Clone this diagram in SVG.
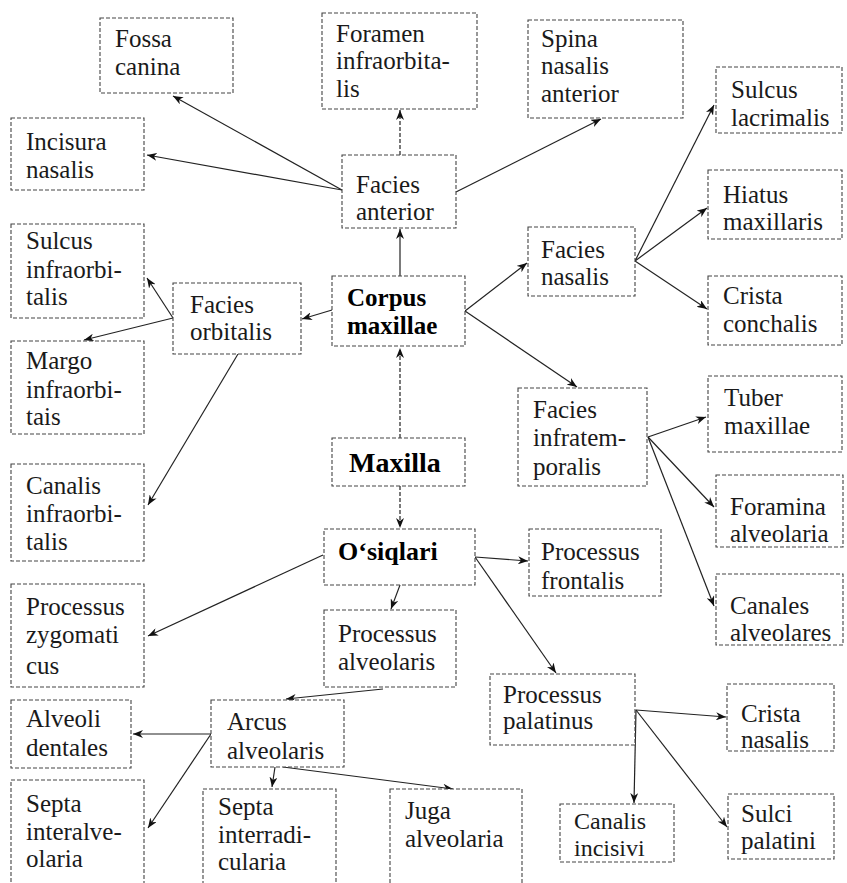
<svg xmlns="http://www.w3.org/2000/svg" width="847" height="883" viewBox="0 0 847 883">
<defs>
<marker id="ah" viewBox="0 0 10 8" refX="10" refY="4" markerWidth="10" markerHeight="8" markerUnits="userSpaceOnUse" orient="auto">
<path d="M0,0 L10,4 L0,8 L3,4 Z" fill="#111"/>
</marker>
</defs>
<style>
.b{fill:#fff;stroke:#444;stroke-width:1.1;stroke-dasharray:4 2}
.t{font-family:"Liberation Serif","Times New Roman",serif;font-size:25px;fill:#1a1a1a}
.bt{font-family:"Liberation Serif","Times New Roman",serif;font-size:25px;font-weight:bold;fill:#000}
.c line{stroke:#222;stroke-width:1.2;marker-end:url(#ah)}
</style>
<rect width="847" height="883" fill="#fff"/>
<g class="c" id="connectors">
<line x1="342" y1="190" x2="173" y2="96"/>
<line x1="342" y1="190" x2="147" y2="155"/>
<line x1="400" y1="155" x2="400" y2="110" stroke-dasharray="4 2"/>
<line x1="456" y1="192" x2="601" y2="119"/>
<line x1="400" y1="276" x2="400" y2="229"/>
<line x1="332" y1="310" x2="302" y2="319"/>
<line x1="465" y1="311" x2="527" y2="263"/>
<line x1="465" y1="311" x2="577" y2="387"/>
<line x1="635" y1="261" x2="714" y2="105"/>
<line x1="635" y1="261" x2="707" y2="208"/>
<line x1="635" y1="261" x2="707" y2="309"/>
<line x1="173" y1="318" x2="147" y2="278"/>
<line x1="173" y1="318" x2="84" y2="340"/>
<line x1="238" y1="354" x2="148" y2="505"/>
<line x1="400" y1="438" x2="400" y2="348" stroke-dasharray="4 2"/>
<line x1="400" y1="486" x2="400" y2="528" stroke-dasharray="4 2"/>
<line x1="648" y1="437" x2="706" y2="417"/>
<line x1="648" y1="437" x2="714" y2="507"/>
<line x1="648" y1="437" x2="714" y2="606"/>
<line x1="323" y1="555" x2="148" y2="636"/>
<line x1="475" y1="557" x2="528" y2="561"/>
<line x1="400" y1="585" x2="391" y2="609"/>
<line x1="475" y1="557" x2="556" y2="673"/>
<line x1="383" y1="689" x2="286" y2="699"/>
<line x1="211" y1="734" x2="133" y2="734"/>
<line x1="211" y1="734" x2="148" y2="828"/>
<line x1="275" y1="767" x2="272" y2="787"/>
<line x1="283" y1="767" x2="453" y2="789"/>
<line x1="636" y1="710" x2="726" y2="717"/>
<line x1="636" y1="710" x2="634" y2="803"/>
<line x1="636" y1="710" x2="727" y2="827"/>
</g>
<g id="n-fossa"><rect class="b" x="100" y="18" width="133" height="75"/><text class="t" x="115" y="47">Fossa</text><text class="t" x="115" y="75">canina</text></g>
<g id="n-foramen"><rect class="b" x="322" y="13" width="155" height="96"/><text class="t" x="336" y="42">Foramen</text><text class="t" x="336" y="69">infraorbita-</text><text class="t" x="336" y="97">lis</text></g>
<g id="n-spina"><rect class="b" x="528" y="20" width="155" height="98"/><text class="t" x="541" y="47">Spina</text><text class="t" x="541" y="74">nasalis</text><text class="t" x="541" y="102">anterior</text></g>
<g id="n-incisura"><rect class="b" x="11" y="118" width="133" height="72"/><text class="t" x="26" y="150">Incisura</text><text class="t" x="26" y="178">nasalis</text></g>
<g id="n-sulcuslac"><rect class="b" x="716" y="67" width="126" height="66"/><text class="t" x="731" y="98">Sulcus</text><text class="t" x="731" y="126">lacrimalis</text></g>
<g id="n-faciesant"><rect class="b" x="342" y="155" width="114" height="73"/><text class="t" x="356" y="193">Facies</text><text class="t" x="356" y="220">anterior</text></g>
<g id="n-hiatus"><rect class="b" x="708" y="170" width="134" height="69"/><text class="t" x="723" y="203">Hiatus</text><text class="t" x="723" y="230">maxillaris</text></g>
<g id="n-sulcusinf"><rect class="b" x="11" y="224" width="133" height="94"/><text class="t" x="26" y="249">Sulcus</text><text class="t" x="26" y="278">infraorbi-</text><text class="t" x="26" y="305">talis</text></g>
<g id="n-faciesnas"><rect class="b" x="528" y="227" width="107" height="69"/><text class="t" x="541" y="258">Facies</text><text class="t" x="541" y="285">nasalis</text></g>
<g id="n-faciesorb"><rect class="b" x="173" y="283" width="128" height="71"/><text class="t" x="190" y="313">Facies</text><text class="t" x="190" y="340">orbitalis</text></g>
<g id="n-corpus"><rect class="b" x="332" y="276" width="133" height="70"/><text class="bt" x="347" y="306">Corpus</text><text class="bt" x="347" y="334">maxillae</text></g>
<g id="n-cristacon"><rect class="b" x="708" y="276" width="134" height="69"/><text class="t" x="723" y="304">Crista</text><text class="t" x="723" y="332">conchalis</text></g>
<g id="n-margo"><rect class="b" x="11" y="341" width="133" height="93"/><text class="t" x="26" y="369">Margo</text><text class="t" x="26" y="398">infraorbi-</text><text class="t" x="26" y="425">tais</text></g>
<g id="n-tuber"><rect class="b" x="708" y="376" width="134" height="76"/><text class="t" x="724" y="406">Tuber</text><text class="t" x="724" y="434">maxillae</text></g>
<g id="n-faciesinfra"><rect class="b" x="518" y="388" width="129" height="98"/><text class="t" x="533" y="418">Facies</text><text class="t" x="533" y="446">infratem-</text><text class="t" x="533" y="475">poralis</text></g>
<g id="n-maxilla"><rect class="b" x="332" y="438" width="133" height="48"/><text class="bt" x="349" y="472" style="font-size:28px">Maxilla</text></g>
<g id="n-canalisinf"><rect class="b" x="11" y="464" width="133" height="97"/><text class="t" x="26" y="494">Canalis</text><text class="t" x="26" y="522">infraorbi-</text><text class="t" x="26" y="550">talis</text></g>
<g id="n-foramina"><rect class="b" x="716" y="475" width="127" height="72"/><text class="t" x="730" y="515">Foramina</text><text class="t" x="730" y="542">alveolaria</text></g>
<g id="n-osiqlari"><rect class="b" x="324" y="529" width="151" height="56"/><text class="bt" x="338" y="560" style="font-size:26px">O‘siqlari</text></g>
<g id="n-procfront"><rect class="b" x="529" y="529" width="132" height="67"/><text class="t" x="541" y="560">Processus</text><text class="t" x="541" y="589">frontalis</text></g>
<g id="n-canales"><rect class="b" x="716" y="574" width="127" height="71"/><text class="t" x="730" y="614">Canales</text><text class="t" x="730" y="641">alveolares</text></g>
<g id="n-proczyg"><rect class="b" x="11" y="584" width="133" height="103"/><text class="t" x="26" y="615">Processus</text><text class="t" x="26" y="643">zygomati</text><text class="t" x="26" y="674">cus</text></g>
<g id="n-procalv"><rect class="b" x="324" y="610" width="132" height="77"/><text class="t" x="338" y="642">Processus</text><text class="t" x="338" y="670">alveolaris</text></g>
<g id="n-procpal"><rect class="b" x="490" y="674" width="145" height="71"/><text class="t" x="503" y="703">Processus</text><text class="t" x="503" y="729">palatinus</text></g>
<g id="n-cristanas"><rect class="b" x="727" y="684" width="107" height="67"/><text class="t" x="741" y="722">Crista</text><text class="t" x="741" y="748">nasalis</text></g>
<g id="n-alveoli"><rect class="b" x="11" y="700" width="120" height="68"/><text class="t" x="26" y="727">Alveoli</text><text class="t" x="26" y="756">dentales</text></g>
<g id="n-arcus"><rect class="b" x="211" y="700" width="133" height="67"/><text class="t" x="227" y="730">Arcus</text><text class="t" x="227" y="759">alveolaris</text></g>
<g id="n-septainteralv"><rect class="b" x="11" y="780" width="133" height="110"/><text class="t" x="26" y="812">Septa</text><text class="t" x="26" y="840">interalve-</text><text class="t" x="26" y="867">olaria</text></g>
<g id="n-septainterrad"><rect class="b" x="203" y="789" width="133" height="101"/><text class="t" x="218" y="815">Septa</text><text class="t" x="218" y="843">interradi-</text><text class="t" x="218" y="870">cularia</text></g>
<g id="n-juga"><rect class="b" x="390" y="789" width="132" height="101"/><text class="t" x="405" y="819">Juga</text><text class="t" x="405" y="847">alveolaria</text></g>
<g id="n-sulci"><rect class="b" x="728" y="794" width="106" height="65"/><text class="t" x="741" y="822">Sulci</text><text class="t" x="741" y="849">palatini</text></g>
<g id="n-canalisinc"><rect class="b" x="560" y="804" width="114" height="58"/><text class="t" x="574" y="829" style="font-size:24px">Canalis</text><text class="t" x="574" y="856" style="font-size:24px">incisivi</text></g>
</svg>
